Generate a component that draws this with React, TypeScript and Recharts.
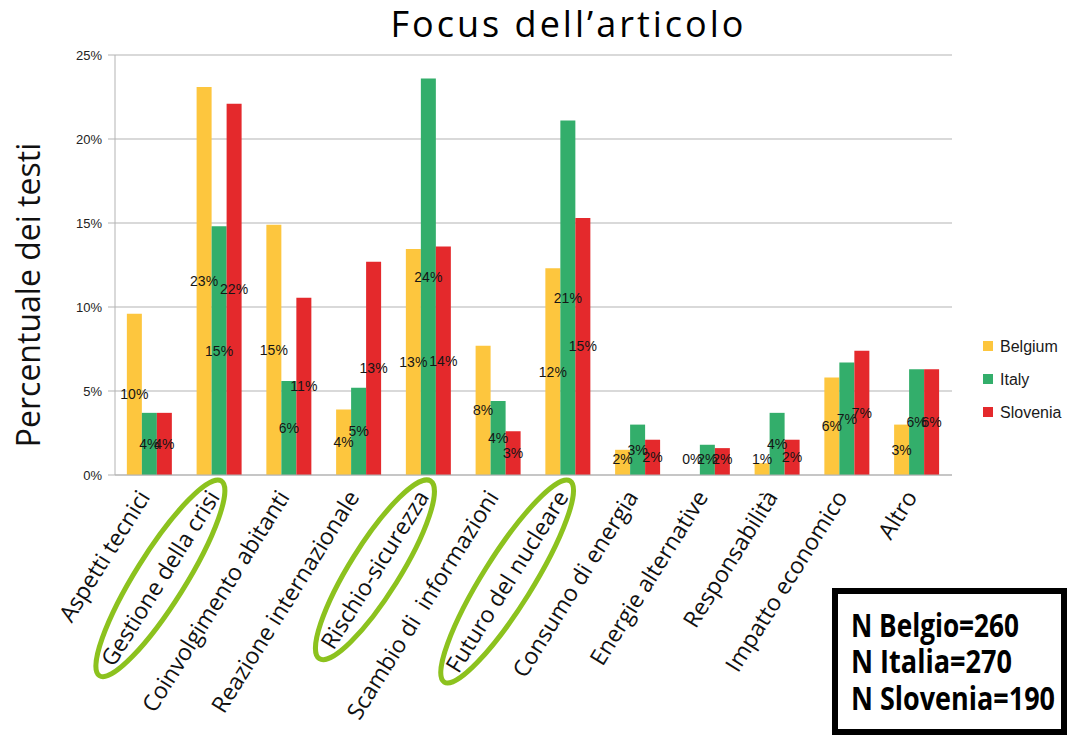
import React, { useLayoutEffect, useRef, useState } from 'react';
import { BarChart, Bar, XAxis, YAxis, CartesianGrid, Legend } from 'recharts';

// Topic categories of the analysed articles
const categories = [
  'Aspetti tecnici',
  'Gestione della crisi',
  'Coinvolgimento abitanti',
  'Reazione internazionale',
  'Rischio-sicurezza',
  'Scambio di  informazioni',
  'Futuro del nucleare',
  'Consumo di energia',
  'Energie alternative',
  'Responsabilità',
  'Impatto economico',
  'Altro',
];

// Share of texts per country (%)
const belgium = [9.6, 23.1, 14.9, 3.9, 13.45, 7.7, 12.3, 1.5, 0, 0.7, 5.8, 3.0];
const italy = [3.7, 14.8, 5.6, 5.2, 23.6, 4.4, 21.1, 3.0, 1.8, 3.7, 6.7, 6.3];
const slovenia = [3.7, 22.1, 10.55, 12.7, 13.6, 2.6, 15.3, 2.1, 1.6, 2.1, 7.4, 6.3];

const yTicks = [0, 5, 10, 15, 20, 25];

// Categories circled as the main focus
const highlighted = ['Gestione della crisi', 'Rischio-sicurezza', 'Futuro del nucleare'];

const sampleSizes = ['N Belgio=260', 'N Italia=270', 'N Slovenia=190'];

const COLORS = { Belgium: '#fdc63e', Italy: '#33ae6b', Slovenia: '#e4292c' };

const data = categories.map((category, i) => ({
  category,
  Belgium: belgium[i],
  Italy: italy[i],
  Slovenia: slovenia[i],
}));

const HUMANIST = '"Open Sans", "Noto Sans", sans-serif';
const ARIAL = '"Liberation Sans", Arial, sans-serif';

// keep a hairline rect for zero values so their "0%" label is still placed
const zeroSafeMinSize = (value: number) => (value === 0 ? 0.01 : 0);

function CategoryTick(props: any) {
  const { x, y, payload } = props;
  const label: string = payload.value;
  const ref = useRef<SVGTextElement>(null);
  const [len, setLen] = useState(0);
  useLayoutEffect(() => {
    if (ref.current) setLen(ref.current.getComputedTextLength());
  }, [label]);
  const ring = highlighted.includes(label);
  return (
    <g transform={`translate(${x + 1},${y + 22}) rotate(-58)`}>
      {ring && len > 0 && (
        <ellipse
          cx={-len / 2}
          cy={-8}
          rx={len / 2 + 14}
          ry={25}
          fill="none"
          stroke="#8cc21e"
          strokeWidth={5}
        />
      )}
      <text
        ref={ref}
        x={0}
        y={0}
        textAnchor="end"
        fontFamily={HUMANIST}
        fontSize={23}
        fill="#111"
        style={{ whiteSpace: 'pre' }}
      >
        {label}
      </text>
    </g>
  );
}

const renderValueLabel = (props: any) => {
  const { x, y, width, height, value } = props;
  const bx = Number(x);
  const by = Number(y);
  const bw = Number(width);
  const bh = Number(height) || 0;
  const cy = Math.min(by + bh / 2, by + bh - 16.5);
  return (
    <text
      x={bx + bw / 2}
      y={cy}
      textAnchor="middle"
      dominantBaseline="central"
      fontFamily={ARIAL}
      fontSize={14}
      fill="#151515"
    >
      {`${Math.round(Number(value) || 0)}%`}
    </text>
  );
};

const renderLegend = (props: any) => {
  const items = props.payload || [];
  return (
    <svg width={92} height={85}>
      {items.map((item: any, i: number) => (
        <g key={item.value} transform={`translate(0, ${i * 33})`}>
          <rect x={0} y={3} width={10} height={10} fill={item.color} />
          <text x={17} y={14} fontFamily={ARIAL} fontSize={16} fill="#1a1a1a">
            {item.value}
          </text>
        </g>
      ))}
    </svg>
  );
};

const renderYLabel = (props: any) => {
  const vb = props.viewBox || { x: 55, y: 55, width: 60, height: 420 };
  const cx = vb.x - 28;
  const cy = vb.y + vb.height / 2 + 30;
  return (
    <text
      x={cx}
      y={cy}
      transform={`rotate(-90, ${cx}, ${cy})`}
      textAnchor="middle"
      dominantBaseline="central"
      fontFamily={HUMANIST}
      fontSize={32}
      fill="#111"
    >
      Percentuale dei testi
    </text>
  );
};

export default function App() {
  return (
    <div style={{ position: 'absolute', left: 0, top: 0, width: 1075, height: 735, background: '#fff' }}>
      <BarChart
        width={1075}
        height={735}
        data={data}
        margin={{ top: 55, right: 123, bottom: 0, left: 55 }}
        barCategoryGap="17%"
        barGap={0}
      >
        <CartesianGrid vertical={false} stroke="#b3b3b3" />
        <XAxis
          dataKey="category"
          interval={0}
          height={260}
          tickLine={false}
          tickSize={0}
          tickMargin={0}
          axisLine={{ stroke: '#b3b3b3' }}
          tick={(p: any) => <CategoryTick {...p} />}
        />
        <YAxis
          width={60}
          domain={[0, 25]}
          ticks={yTicks}
          interval={0}
          tickFormatter={(v: number) => `${v}%`}
          axisLine={{ stroke: '#b3b3b3' }}
          tickLine={{ stroke: '#b3b3b3' }}
          tickSize={7}
          tickMargin={6}
          tick={{ fontFamily: ARIAL, fontSize: 13, fill: '#222' }}
          label={{ content: renderYLabel }}
        />
        <Legend
          layout="vertical"
          align="center"
          verticalAlign="middle"
          content={renderLegend}
          wrapperStyle={{ left: 983, top: 338, width: 92, height: 85 }}
        />
        <Bar
          dataKey="Belgium"
          name="Belgium"
          fill={COLORS.Belgium}
          isAnimationActive={false}
          minPointSize={zeroSafeMinSize}
          label={renderValueLabel}
        />
        <Bar
          dataKey="Italy"
          name="Italy"
          fill={COLORS.Italy}
          isAnimationActive={false}
          minPointSize={zeroSafeMinSize}
          label={renderValueLabel}
        />
        <Bar
          dataKey="Slovenia"
          name="Slovenia"
          fill={COLORS.Slovenia}
          isAnimationActive={false}
          minPointSize={zeroSafeMinSize}
          label={renderValueLabel}
        />
      </BarChart>
      <svg
        width={1075}
        height={735}
        style={{ position: 'absolute', left: 0, top: 0, pointerEvents: 'none' }}
      >
        <text
          x={567}
          y={37}
          textAnchor="middle"
          fontFamily={HUMANIST}
          fontSize={36}
          fill="#000"
          textLength={353}
        >
          Focus dell’articolo
        </text>
        <rect x={835} y={591} width={229} height={141} fill="#fff" stroke="#000" strokeWidth={6} />
        {sampleSizes.map((s, i) => (
          <text
            key={s}
            x={851}
            y={637 + i * 36.3}
            fontFamily={HUMANIST}
            fontWeight={700}
            fontSize={32}
            fill="#000"
            textLength={[168, 161, 204][i]}
            lengthAdjust="spacingAndGlyphs"
          >
            {s}
          </text>
        ))}
      </svg>
    </div>
  );
}
